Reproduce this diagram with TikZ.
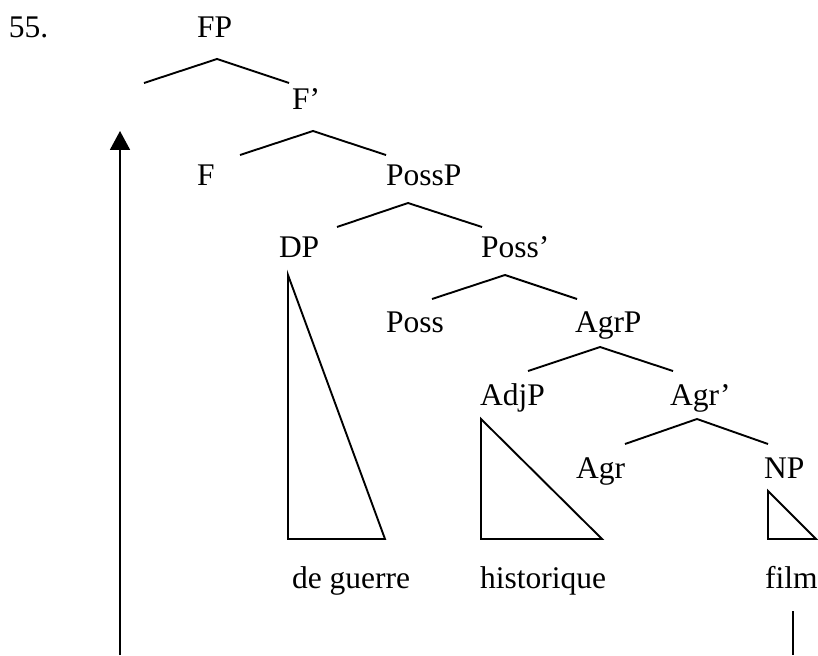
\documentclass[tikz,border=0pt]{standalone}
\usepackage{fontspec}
\setmainfont{Liberation Serif}
\usetikzlibrary{arrows.meta}
\begin{document}
\begin{tikzpicture}[x=1pt,y=-1pt,
  lbl/.style={anchor=base west,inner sep=0pt,outer sep=0pt,font=\fontsize{31.5}{36}\selectfont},
  branch/.style={line width=1.9pt,line cap=butt},
  tri/.style={line width=1.9pt,line join=miter}]
\useasboundingbox (0,0) rectangle (818,655);
% labels
\node[lbl] (num) at (9,38) {55.};
\node[lbl] (FP) at (197,38) {FP};
\node[lbl] (Fbar) at (292,110) {F’};
\node[lbl] (F) at (197,185) {F};
\node[lbl] (PossP) at (386,185) {PossP};
\node[lbl] (DP) at (279,257) {DP};
\node[lbl] (Possbar) at (481,257) {Poss’};
\node[lbl] (Poss) at (386,332) {Poss};
\node[lbl] (AgrP) at (575,332) {AgrP};
\node[lbl] (AdjP) at (480,405) {AdjP};
\node[lbl] (Agrbar) at (670,405) {Agr’};
\node[lbl] (Agr) at (576,478) {Agr};
\node[lbl] (NP) at (764,478) {NP};
\node[lbl] (deguerre) at (292,588) {de guerre};
\node[lbl] (historique) at (480,588) {historique};
\node[lbl] (film) at (765,588) {film};
% branch coordinates
\coordinate (a1) at (217,59);  \coordinate (l1) at (144,83);  \coordinate (r1) at (289,83);
\coordinate (a2) at (313,131); \coordinate (l2) at (240,155); \coordinate (r2) at (386,155);
\coordinate (a3) at (408,203); \coordinate (l3) at (337,227); \coordinate (r3) at (482,227);
\coordinate (a4) at (505,275); \coordinate (l4) at (432,299); \coordinate (r4) at (577,299);
\coordinate (a5) at (600,347); \coordinate (l5) at (528,371); \coordinate (r5) at (673,371);
\coordinate (a6) at (697,419); \coordinate (l6) at (625,444); \coordinate (r6) at (768,444);
\draw[branch] (l1) -- (a1) -- (r1);
\draw[branch] (l2) -- (a2) -- (r2);
\draw[branch] (l3) -- (a3) -- (r3);
\draw[branch] (l4) -- (a4) -- (r4);
\draw[branch] (l5) -- (a5) -- (r5);
\draw[branch] (l6) -- (a6) -- (r6);
% triangles
\draw[tri] (288,275) -- (288,539) -- (385,539) -- cycle;
\draw[tri] (481,419) -- (481,539) -- (602,539) -- cycle;
\draw[tri] (768,491) -- (768,539) -- (816,539) -- cycle;
% movement arrow
\coordinate (arrbot) at (120,655);
\coordinate (arrtop) at (120,131);
\draw[line width=1.9pt,-{Triangle[width=20pt,length=19pt]}] (arrbot) -- (arrtop);
\coordinate (filmtop) at (793,611);
\coordinate (filmbot) at (793,655);
\draw[line width=1.9pt] (filmtop) -- (filmbot);
\end{tikzpicture}
\end{document}
